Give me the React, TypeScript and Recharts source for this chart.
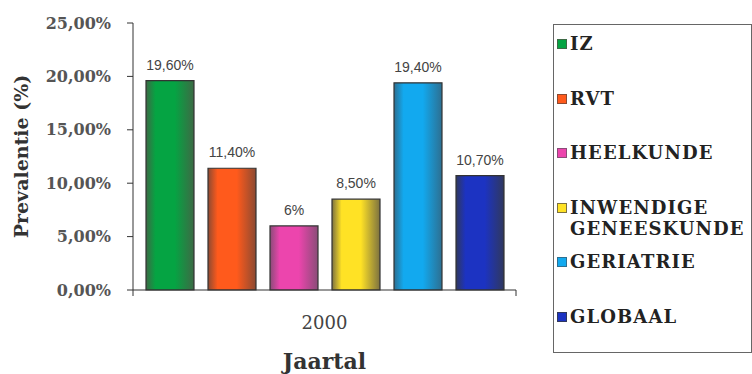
import { BarChart, Bar, XAxis, YAxis, LabelList } from 'recharts';

// Prevalentie per afdeling, jaar 2000
const YEARS = ['2000'];
const DEPARTMENTS = ['IZ', 'RVT', 'HEELKUNDE', 'INWENDIGE GENEESKUNDE', 'GERIATRIE', 'GLOBAAL'];
const PREVALENCE = [[19.6], [11.4], [6], [8.5], [19.4], [10.7]];
const Y_TICKS = [0, 5, 10, 15, 20, 25];

// [edge, centre] shades for the cylinder-ish look
const SHADES = [
  ['#3d6a45', '#05a443'],
  ['#8c4a32', '#ff5a1c'],
  ['#8a4c78', '#ec45ad'],
  ['#7d7240', '#ffe225'],
  ['#2d6f91', '#12a9ef'],
  ['#30385e', '#1c33c2'],
];

const serif = '"DejaVu Serif", serif';
const sans = '"Liberation Sans", Arial, sans-serif';

const pct = (v: number) => (Number.isInteger(v) ? `${v}%` : `${v.toFixed(2).replace('.', ',')}%`);
const pct2 = (v: number) => `${v.toFixed(2).replace('.', ',')}%`;

function YearTick(props: any) {
  const { x, y, payload } = props;
  const half = payload.offset;
  return (
    <g>
      <line x1={x - half} x2={x - half} y1={y} y2={y + 6} stroke="#333" />
      <line x1={x + half} x2={x + half} y1={y} y2={y + 6} stroke="#333" />
      <text x={x} y={y + 32} textAnchor="middle" dominantBaseline="central" fontFamily={serif} fontSize={18} fill="#444">
        {payload.value}
      </text>
    </g>
  );
}

export default function App() {
  const data = YEARS.map((year, i) => {
    const row: Record<string, any> = { year };
    DEPARTMENTS.forEach((d, j) => (row[d] = PREVALENCE[j][i]));
    return row;
  });

  return (
    <div style={{ position: 'absolute', left: 0, top: 0, width: 752, height: 374, background: '#fff' }}>
      <BarChart
        width={752}
        height={374}
        data={data}
        margin={{ top: 23, right: 236, bottom: 0, left: 0 }}
        barCategoryGap={13}
        barGap={14}
      >
        <defs>
          {SHADES.map(([edge, mid], i) => (
            <linearGradient key={i} id={`bar${i}`} x1="0" y1="0" x2="1" y2="0">
              <stop offset="0%" stopColor={edge} />
              <stop offset="20%" stopColor={mid} />
              <stop offset="60%" stopColor={mid} />
              <stop offset="100%" stopColor={edge} />
            </linearGradient>
          ))}
        </defs>
        <YAxis
          width={133}
          domain={[0, 25]}
          ticks={Y_TICKS}
          interval={0}
          tickFormatter={pct2}
          tickSize={6}
          tickMargin={16}
          axisLine={{ stroke: '#333' }}
          tickLine={{ stroke: '#333' }}
          tick={{ fontFamily: serif, fontSize: 16, fontWeight: 'bold', fill: '#555' }}
          label={{
            content: ({ viewBox }: any) => (
              <text
                x={21}
                y={viewBox.y + viewBox.height / 2}
                transform={`rotate(-90 21 ${viewBox.y + viewBox.height / 2})`}
                textAnchor="middle"
                dominantBaseline="central"
                fontFamily={serif}
                fontWeight="bold"
                fontSize={19}
                fill="#333"
              >
                Prevalentie (%)
              </text>
            ),
          }}
        />
        <XAxis
          dataKey="year"
          height={84}
          tickSize={0}
          tickMargin={0}
          tickLine={false}
          axisLine={{ stroke: '#333' }}
          tick={<YearTick />}
          label={{
            value: 'Jaartal',
            position: 'insideBottom',
            offset: 5,
            style: { fontFamily: serif, fontWeight: 'bold', fontSize: 22, fill: '#333' },
          }}
        />
        {DEPARTMENTS.map((d, j) => (
          <Bar key={d} dataKey={d} fill={`url(#bar${j})`} stroke="#333" strokeWidth={1.2} isAnimationActive={false}>
            <LabelList
              dataKey={d}
              position="top"
              offset={11}
              formatter={(v: any) => pct(Number(v))}
              style={{ fontFamily: sans, fontSize: 14, fill: '#444' }}
            />
          </Bar>
        ))}
      </BarChart>

      <div
        style={{
          position: 'absolute',
          left: 553,
          top: 24,
          width: 199,
          height: 329,
          border: '1px solid #666',
          boxSizing: 'border-box',
          paddingTop: 8,
          fontFamily: serif,
          fontWeight: 'bold',
          fontSize: 18,
          letterSpacing: 1.1,
          lineHeight: '21px',
          color: '#222',
        }}
      >
        {DEPARTMENTS.map((d, j) => (
          <div key={d} style={{ height: 54.6, display: 'flex', alignItems: 'flex-start' }}>
            <span
              style={{
                width: 8,
                height: 8,
                marginLeft: 3,
                marginTop: 6,
                marginRight: 3,
                flex: 'none',
                background: SHADES[j][1],
                border: `1px solid ${SHADES[j][0]}`,
              }}
            />
            <span style={{ whiteSpace: 'normal' }}>{d}</span>
          </div>
        ))}
      </div>
    </div>
  );
}
